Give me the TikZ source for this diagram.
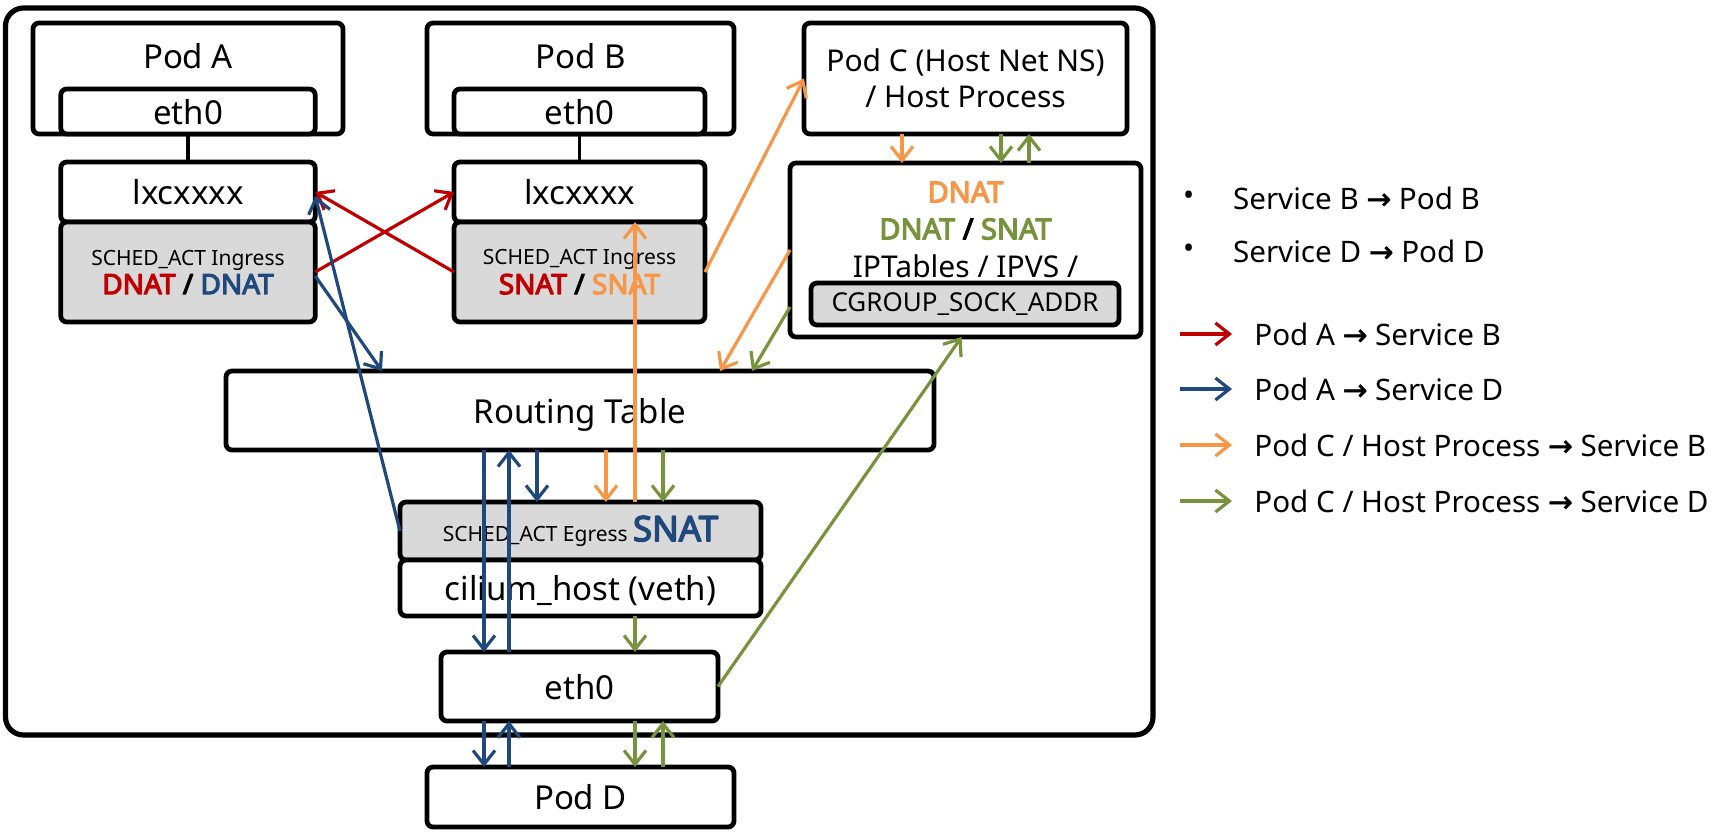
\documentclass[tikz,border=0pt]{standalone}
\usepackage{fontspec}
\setmainfont{Noto Sans}
\newfontfamily\natfont[FakeBold=4]{Noto Sans}
\newfontfamily\arrowfont[FakeBold=1.5]{DejaVu Sans}
\usetikzlibrary{arrows.meta,calc}
\usetikzlibrary{positioning}
\definecolor{cred}{RGB}{192,0,0}
\definecolor{cblue}{RGB}{31,73,125}
\definecolor{corange}{RGB}{247,150,70}
\definecolor{cgreen}{RGB}{119,147,60}
\definecolor{cgray}{RGB}{217,217,217}
\newcommand{\arr}{{\arrowfont →}}
\tikzset{box/.style={draw,line width=2.4pt,rounded corners=3pt,fill=white,inner sep=0pt,outer sep=0pt},
  gbox/.style={box,fill=cgray},
  big/.style={font=\fontsize{16.5}{20}\selectfont,text depth=0pt},
  mid/.style={font=\fontsize{15}{18}\selectfont},
  legend/.style={font=\fontsize{14.8}{17}\selectfont,anchor=west},
  flow/.style={->,line width=1.6pt}}

\begin{document}
\begin{tikzpicture}[x=0.5pt,y=-0.5pt,>={Straight Barb[length=7pt,width=11pt]},line join=round]
\useasboundingbox (0,0) rectangle (1725,835);
\draw[line width=2.6pt,rounded corners=9pt] (5.5,8) rectangle (1153,735); % host frame
% --- Pod A / Pod B with their lxc side
\node[box,minimum width=155pt,minimum height=55.5pt] (podA) at (188,78.5) {};
\node[big] (podAtxt) at (188,56) {Pod A};
\node[box,big,minimum width=127.25pt,minimum height=22.5pt] (ethA) at (188,111.5) {eth0};
\node[box,big,minimum width=127.25pt,minimum height=30pt] (lxcA) at (188,192) {lxcxxxx};
\node[gbox,minimum width=127.25pt,minimum height=50pt,align=center] (schedA) at (188,272) {{\fontsize{10.5}{12}\selectfont SCHED\_ACT Ingress}\\[1pt]{\fontsize{14}{16}\natfont\textcolor{cred}{DNAT} / \textcolor{cblue}{DNAT}}};
\node[box,minimum width=153.5pt,minimum height=55.5pt] (podB) at (580.5,78.5) {};
\node[big] (podBtxt) at (580.5,56) {Pod B};
\node[box,big,minimum width=125.5pt,minimum height=22.5pt] (ethB) at (579.5,111.5) {eth0};
\node[box,big,minimum width=125.5pt,minimum height=30pt] (lxcB) at (579.5,192) {lxcxxxx};
\node[gbox,minimum width=125.5pt,minimum height=50pt,align=center] (schedB) at (579.5,272) {{\fontsize{10.5}{12}\selectfont SCHED\_ACT Ingress}\\[1pt]{\fontsize{14}{16}\natfont\textcolor{cred}{SNAT} / \textcolor{corange}{SNAT}}};
\draw[line width=1.6pt] (ethA.south) -- (lxcA.north);
\draw[line width=1.6pt] (ethB.south) -- (lxcB.north);
% --- Pod C and the socket / iptables side
\node[box,mid,minimum width=161.5pt,minimum height=55.5pt,align=center] (podC) at (965.5,78.5) {Pod C (Host Net NS)\\/ Host Process};
\node[box,minimum width=175.5pt,minimum height=87pt] (ipt) at (965.5,250) {};
\node[font=\fontsize{14.5}{17}\natfont,text=corange] (iptdnat) at (965.5,192) {DNAT};
\node[font=\fontsize{14.5}{17}\natfont] (iptnat) at (965.5,229) {\textcolor{cgreen}{DNAT} / \textcolor{cgreen}{SNAT}};
\node[mid] (ipttxt) at (965.5,266) {IPTables / IPVS /};
\node[gbox,minimum width=154pt,minimum height=21pt,font=\fontsize{13}{15}\selectfont] (cgroup) at (965,304) {CGROUP\_SOCK\_ADDR};
% --- routing, cilium_host, eth0, Pod D
\node[box,big,minimum width=354pt,minimum height=39.5pt] (rt) at (580,410.5) {Routing Table};
\node[gbox,minimum width=180.5pt,minimum height=29pt] (egress) at (580.5,531) {{\fontsize{10.5}{12}\selectfont SCHED\_ACT Egress} {\fontsize{17.5}{20}\natfont\textcolor{cblue}{SNAT}}};
\node[box,big,minimum width=180.5pt,minimum height=28pt] (cilium) at (580.5,588) {cilium\_host (veth)};
\node[box,big,minimum width=138.5pt,minimum height=34.5pt] (ethH) at (579.5,686.5) {eth0};
\node[box,big,minimum width=153.5pt,minimum height=30pt] (podD) at (580.5,797) {Pod D};
% columns for the vertical arrows
\coordinate (bdn) at (484,0); \coordinate (bup) at (509,0); \coordinate (bsh) at (537,0);
\coordinate (osh) at (606,0); \coordinate (oup) at (635,0); \coordinate (gdn) at (663,0);
\coordinate (bR) at (382,0); \coordinate (oR) at (720,0); \coordinate (gR) at (752,0);
\coordinate (oC) at (902,0); \coordinate (gC) at (1001,0); \coordinate (gCu) at (1029,0);
% --- red: Pod A -> Service B
\draw[flow,cred] (schedA.east) -- (lxcB.west);
\draw[flow,cred] (schedB.west) -- (lxcA.east);
% --- blue: Pod A -> Service D
\draw[flow,cblue] ([yshift=-2pt]schedA.east) -- (rt.north -| bR);
\draw[flow,cblue] (egress.west) -- ([yshift=-2pt]lxcA.east);
\draw[flow,cblue] (rt.south -| bdn) -- (ethH.north -| bdn);
\draw[flow,cblue] (ethH.north -| bup) -- (rt.south -| bup);
\draw[flow,cblue] (rt.south -| bsh) -- (egress.north -| bsh);
\draw[flow,cblue] (ethH.south -| bdn) -- (podD.north -| bdn);
\draw[flow,cblue] (podD.north -| bup) -- (ethH.south -| bup);
% --- orange: Pod C / host process -> Service B
\draw[flow,corange] (schedB.east) -- (podC.west);
\draw[flow,corange] (podC.south -| oC) -- (ipt.north -| oC);
\draw[flow,corange] (ipt.west) -- (rt.north -| oR);
\draw[flow,corange] (rt.south -| osh) -- (egress.north -| osh);
\draw[flow,corange] (egress.north -| oup) -- (lxcB.south -| oup);
% --- green: Pod C / host process -> Service D
\draw[flow,cgreen] (podC.south -| gC) -- (ipt.north -| gC);
\draw[flow,cgreen] (ipt.north -| gCu) -- (podC.south -| gCu);
\draw[flow,cgreen] ([yshift=-28.5pt]ipt.west) -- (rt.north -| gR);
\draw[flow,cgreen] (rt.south -| gdn) -- (egress.north -| gdn);
\draw[flow,cgreen] (cilium.south -| oup) -- (ethH.north -| oup);
\draw[flow,cgreen] (ethH.east) -- ([xshift=-2pt]ipt.south);
\draw[flow,cgreen] (ethH.south -| oup) -- (podD.north -| oup);
\draw[flow,cgreen] (podD.north -| gdn) -- (ethH.south -| gdn);
% --- legend
\node[legend] (bulB) at (1176,198) {•};
\node[legend] (svcB) at (1226,198) {Service B \arr{} Pod B};
\node[legend] (bulD) at (1176,251) {•};
\node[legend] (svcD) at (1226,251) {Service D \arr{} Pod D};
\coordinate (lg1) at (1180,334); \coordinate (lg2) at (1180,389);
\coordinate (lg3) at (1180,445); \coordinate (lg4) at (1180,501);
\node[legend,inner xsep=11pt] (legA) at (1232,334) {Pod A \arr{} Service B};
\node[legend,inner xsep=11pt] (legB) at (1232,389) {Pod A \arr{} Service D};
\node[legend,inner xsep=11pt] (legC) at (1232,445) {Pod C / Host Process \arr{} Service B};
\node[legend,inner xsep=11pt] (legD) at (1232,501) {Pod C / Host Process \arr{} Service D};
\draw[flow,cred] (lg1) -- (legA.west);
\draw[flow,cblue] (lg2) -- (legB.west);
\draw[flow,corange] (lg3) -- (legC.west);
\draw[flow,cgreen] (lg4) -- (legD.west);
\end{tikzpicture}
\end{document}
